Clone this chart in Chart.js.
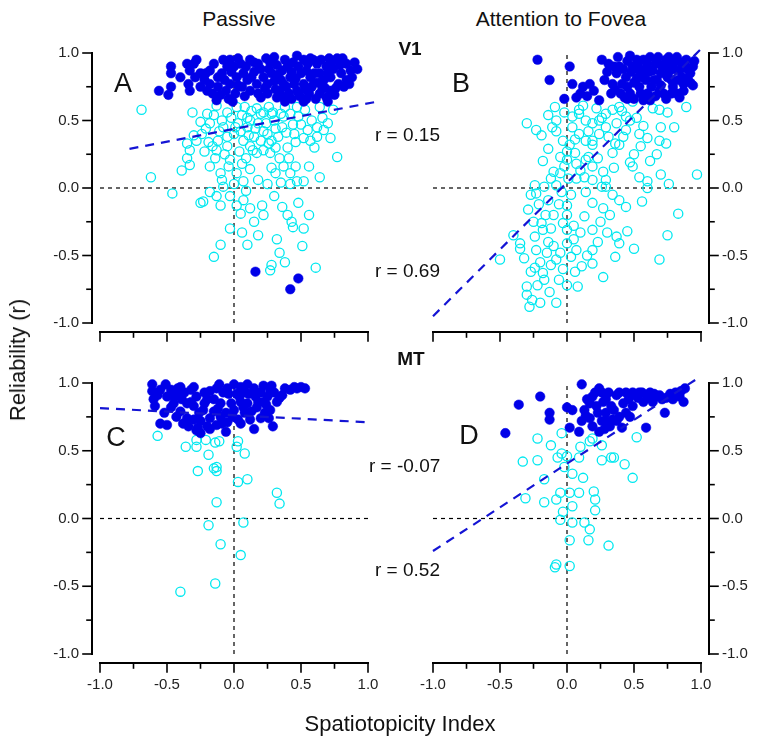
<!DOCTYPE html>
<html>
<head>
<meta charset="utf-8">
<script src="https://cdn.jsdelivr.net/npm/chart.js@4.4.1/dist/chart.umd.min.js"></script>
<style>
  body { margin:0; background:#fff; }
  #fig { position:relative; width:760px; height:745px; overflow:hidden; font-family:"Liberation Sans", Arial, sans-serif; color:#111; }
  #fig canvas { position:absolute; }
  .t { position:absolute; white-space:nowrap; line-height:1; transform:translate(-50%,-50%); }
  .r { position:absolute; white-space:nowrap; line-height:1; transform:translateY(-50%); font-size:19px; }
</style>
</head>
<body>
<div id="fig">
  <canvas id="cA" width="400" height="320" style="left:0;top:30px"></canvas>
  <canvas id="cB" width="360" height="320" style="left:400px;top:30px"></canvas>
  <canvas id="cC" width="400" height="395" style="left:0;top:350px"></canvas>
  <canvas id="cD" width="360" height="395" style="left:400px;top:350px"></canvas>

  <div class="t" style="left:239px;top:18px;font-size:21px">Passive</div>
  <div class="t" style="left:561px;top:18px;font-size:21px">Attention to Fovea</div>
  <div class="t" style="left:410px;top:48px;font-size:19px;font-weight:bold">V1</div>
  <div class="t" style="left:411px;top:358px;font-size:19px;font-weight:bold">MT</div>
  <div class="t" style="left:123px;top:83px;font-size:27px">A</div>
  <div class="t" style="left:461px;top:83px;font-size:27px">B</div>
  <div class="t" style="left:116px;top:437px;font-size:27px">C</div>
  <div class="t" style="left:469px;top:435px;font-size:27px">D</div>
  <div class="r" style="left:375px;top:134px">r = 0.15</div>
  <div class="r" style="left:375px;top:270px">r = 0.69</div>
  <div class="r" style="left:369px;top:465px">r = -0.07</div>
  <div class="r" style="left:375px;top:569px">r = 0.52</div>
  <div class="t" style="left:18px;top:360px;font-size:22px;transform:translate(-50%,-50%) rotate(-90deg)">Reliability (r)</div>
  <div class="t" style="left:400px;top:724px;font-size:22px">Spatiotopicity Index</div>
</div>
<script>
// axis ticks (every 0.25, labels on the half units)
const tickValues = [-1, -0.75, -0.5, -0.25, 0, 0.25, 0.5, 0.75, 1];
const tickLabels = ['-1.0', '-0.5', '0.0', '0.5', '1.0'];

// V1 passive
const aFilled = [[-0.47,0.90],[-0.47,0.85],[-0.56,0.72],[-0.49,0.69],[-0.47,0.75],[-0.35,0.92],[-0.33,0.87],[-0.30,0.92],[-0.34,0.77],[-0.33,0.72],[-0.29,0.82],[-0.25,0.75],[-0.20,0.72],[-0.18,0.77],[-0.21,0.85],[-0.18,0.87],[-0.25,0.85],[-0.08,0.95],[-0.05,0.90],[-0.09,0.85],[-0.03,0.95],[0.00,0.90],[0.02,0.82],[-0.03,0.77],[-0.06,0.72],[-0.10,0.69],[-0.13,0.65],[-0.04,0.66],[0.01,0.70],[0.06,0.75],[0.07,0.85],[0.05,0.92],[0.15,0.93],[0.15,0.86],[0.12,0.72],[0.17,0.77],[0.20,0.67],[0.22,0.82],[0.25,0.77],[0.28,0.85],[0.30,0.97],[0.32,0.91],[0.36,0.87],[0.38,0.95],[0.42,0.82],[0.39,0.75],[0.34,0.72],[0.32,0.67],[0.47,0.98],[0.48,0.90],[0.52,0.95],[0.54,0.87],[0.57,0.82],[0.52,0.77],[0.47,0.72],[0.43,0.66],[0.52,0.64],[0.59,0.95],[0.62,0.92],[0.64,0.85],[0.67,0.80],[0.69,0.90],[0.72,0.72],[0.77,0.96],[0.78,0.77],[0.84,0.92],[0.87,0.87],[0.92,0.88],[0.84,0.80],[0.75,0.69],[0.64,0.70],[0.58,0.75],[0.69,0.67],[0.40,0.90],[0.44,0.93],[0.55,0.92],[0.60,0.85],[0.70,0.85],[0.73,0.93],[0.80,0.85],[0.63,0.78],[0.35,0.80],[0.10,0.80],[0.27,0.93],[-0.12,0.82],[-0.40,0.82],[0.20,0.88],[0.45,0.77],[0.56,0.70],[0.68,0.74],[0.82,0.75],[0.88,0.82],[0.25,0.70],[-0.02,0.86],[0.08,0.68],[0.36,0.68],
  [-0.28,0.95],[-0.22,0.80],[-0.15,0.92],[-0.12,0.75],[-0.07,0.80],[0.03,0.96],[0.03,0.76],[0.09,0.90],[0.12,0.95],[0.13,0.82],[0.18,0.70],[0.18,0.92],[0.23,0.74],[0.24,0.96],[0.26,0.88],[0.30,0.79],[0.31,0.73],[0.33,0.84],[0.37,0.77],[0.41,0.70],[0.43,0.86],[0.46,0.81],[0.49,0.68],[0.50,0.85],[0.53,0.73],[0.57,0.96],[0.60,0.78],[0.61,0.66],[0.65,0.95],[0.66,0.74],[0.71,0.96],[0.72,0.82],[0.74,0.88],[0.76,0.74],[0.79,0.91],[0.81,0.96],[0.86,0.77],[0.90,0.93],[0.70,0.64],[0.54,0.66],[0.38,0.64],[-0.01,0.64],[-0.16,0.70],
  [0.16,-0.62],[0.48,-0.67],[0.42,-0.75]];
const aOpen = [[-0.69,0.58],[-0.62,0.08],[-0.46,-0.04],[-0.31,0.56],[-0.25,0.49],[-0.21,0.44],[-0.30,0.39],[-0.35,0.33],[-0.33,0.28],[-0.35,0.22],[-0.33,0.17],[-0.39,0.13],[-0.28,0.35],[-0.19,0.34],[-0.15,0.54],[-0.13,0.61],[-0.09,0.50],[-0.05,0.56],[-0.08,0.45],[-0.11,0.42],[-0.16,0.31],[-0.13,0.28],[-0.05,0.31],[-0.03,0.21],[-0.04,0.16],[-0.10,0.11],[-0.09,0.06],[-0.18,0.16],[0.02,0.60],[0.06,0.54],[0.03,0.48],[0.10,0.45],[0.12,0.50],[0.17,0.59],[0.22,0.56],[0.26,0.60],[0.29,0.56],[0.07,0.35],[0.12,0.31],[0.15,0.38],[0.20,0.35],[0.25,0.40],[0.28,0.35],[0.31,0.44],[0.36,0.45],[0.37,0.53],[0.42,0.55],[0.48,0.53],[0.52,0.37],[0.57,0.35],[0.62,0.45],[0.67,0.43],[0.72,0.37],[0.77,0.23],[0.64,0.60],[0.58,0.50],[0.64,0.08],[0.56,0.16],[0.42,0.03],[0.47,0.05],[0.42,0.11],[0.41,0.22],[0.34,0.22],[0.37,0.16],[0.31,0.11],[0.25,0.03],[0.07,0.05],[0.02,0.11],[0.06,0.18],[0.17,0.26],[0.22,0.28],[0.27,0.26],[-0.25,-0.11],[-0.23,-0.10],[-0.13,-0.06],[-0.10,-0.13],[-0.03,-0.06],[0.02,-0.13],[0.07,-0.09],[0.05,-0.19],[0.15,-0.25],[0.22,-0.20],[0.21,-0.13],[0.36,-0.14],[0.48,-0.11],[0.56,-0.20],[0.43,-0.25],[0.44,-0.29],[0.52,-0.30],[-0.03,-0.30],[0.06,-0.33],[-0.10,-0.42],[-0.15,-0.51],[0.10,-0.42],[0.32,-0.38],[0.34,-0.48],[0.51,-0.43],[0.28,-0.57],[0.27,-0.61],[0.61,-0.59],[-0.08,0.01],[0.00,0.03],[0.00,0.40],[0.05,0.42],[0.10,0.52],[0.18,0.48],[0.22,0.42],[0.30,0.50],[0.33,0.38],[0.45,0.40],[0.50,0.47],[-0.05,0.38],[-0.12,0.35],[0.14,0.28],[0.40,0.30],[0.62,0.38],[0.28,0.55],[0.38,0.60],[-0.20,0.55],[0.08,0.60],
  [-0.22,0.27],[-0.18,0.48],[-0.02,0.52],[0.04,0.27],[0.09,0.22],[0.11,0.39],[0.13,0.57],[0.16,0.44],[0.20,0.55],[0.24,0.48],[0.26,0.33],[0.31,0.30],[0.35,0.55],[0.39,0.41],[0.44,0.47],[0.46,0.34],[0.47,0.60],[0.53,0.58],[0.55,0.43],[0.60,0.30],[0.66,0.52],[0.70,0.48],[0.74,0.58],[0.12,0.14],[0.18,0.06],[0.28,0.15],[0.46,0.16],[0.52,0.05],[-0.14,0.22],[-0.24,0.40],[-0.07,0.25],[0.09,-0.02],[0.35,0.04],[0.30,-0.06],[0.12,-0.15],[-0.18,-0.03],[0.40,-0.20],[0.18,-0.35],[0.38,-0.55],[0.01,0.45]];
const aFit = [[-0.78,0.29],[1.07,0.64]];

// V1 attention to fovea
const bFilled = [[-0.22,0.95],[-0.13,0.80],[-0.02,0.66],[0.02,0.90],[0.26,0.95],[0.30,0.86],[0.04,0.77],[0.07,0.67],[0.12,0.75],[0.17,0.77],[0.20,0.72],[0.24,0.65],[0.33,0.70],[0.37,0.85],[0.41,0.77],[0.43,0.67],[0.47,0.98],[0.49,0.90],[0.52,0.81],[0.54,0.75],[0.57,0.65],[0.62,0.97],[0.64,0.87],[0.67,0.80],[0.69,0.72],[0.73,0.92],[0.75,0.82],[0.79,0.75],[0.82,0.97],[0.84,0.87],[0.89,0.95],[0.90,0.81],[0.94,0.90],[0.84,0.67],[0.74,0.66],[0.62,0.65],[0.39,0.90],[0.34,0.77],[0.44,0.82],[0.59,0.80],[0.52,0.95],[0.67,0.95],[0.77,0.90],[0.87,0.77],[0.94,0.76],[0.54,0.87],[0.45,0.75],[0.55,0.70],[0.60,0.92],[0.70,0.85],[0.78,0.80],[0.80,0.93],[0.86,0.82],[0.92,0.85],[0.63,0.75],[0.72,0.70],[0.48,0.86],[0.58,0.88],[0.66,0.92],[0.76,0.97],[0.88,0.90],[0.40,0.70],[0.50,0.66],[0.82,0.70],[0.35,0.90],[0.45,0.94],
  [0.28,0.80],[0.31,0.92],[0.36,0.73],[0.38,0.97],[0.42,0.88],[0.47,0.70],[0.50,0.78],[0.53,0.92],[0.56,0.82],[0.60,0.70],[0.61,0.86],[0.65,0.80],[0.68,0.97],[0.70,0.76],[0.71,0.90],[0.74,0.95],[0.76,0.86],[0.78,0.70],[0.80,0.88],[0.83,0.80],[0.85,0.93],[0.87,0.72],[0.90,0.88],[0.92,0.78],[0.95,0.94],[0.57,0.95],[0.45,0.66],[0.66,0.68],[0.15,0.68],[0.10,0.70]];
const bOpen = [[-0.30,0.48],[-0.23,0.43],[-0.19,0.39],[-0.14,0.29],[-0.08,0.50],[-0.14,0.54],[-0.09,0.60],[-0.08,0.42],[-0.05,0.23],[0.00,0.27],[-0.10,0.12],[-0.08,0.02],[-0.02,0.16],[-0.24,0.02],[-0.23,-0.04],[-0.17,0.01],[-0.14,-0.09],[-0.29,-0.16],[-0.25,-0.25],[-0.19,-0.26],[-0.18,-0.31],[-0.40,-0.35],[-0.35,-0.41],[-0.35,-0.45],[-0.50,-0.53],[-0.24,-0.36],[-0.23,-0.46],[-0.24,-0.59],[-0.18,-0.63],[-0.17,-0.68],[-0.30,-0.73],[-0.30,-0.79],[-0.26,-0.83],[-0.28,-0.88],[-0.20,-0.85],[-0.08,-0.85],[0.00,-0.72],[0.08,-0.73],[-0.15,-0.48],[-0.10,-0.43],[-0.05,-0.48],[-0.08,-0.53],[-0.12,-0.57],[0.00,-0.41],[0.07,-0.46],[0.11,-0.58],[0.03,-0.51],[0.19,-0.46],[0.19,-0.56],[0.27,-0.66],[0.36,-0.51],[0.39,-0.41],[0.30,-0.33],[0.19,-0.31],[0.37,-0.36],[0.69,-0.53],[0.75,-0.35],[0.83,-0.19],[0.97,0.10],[0.76,0.03],[0.60,0.05],[0.60,0.00],[0.54,0.08],[0.49,0.16],[0.47,0.19],[0.44,-0.14],[0.39,-0.09],[0.34,-0.05],[0.26,0.01],[0.19,0.06],[0.13,0.08],[0.07,0.07],[0.00,-0.13],[0.00,-0.20],[0.13,-0.21],[0.19,-0.11],[0.27,-0.15],[0.14,-0.03],[0.29,0.01],[0.07,0.18],[0.14,0.21],[0.16,0.23],[0.06,0.26],[0.19,0.16],[0.27,0.12],[0.29,0.06],[0.34,0.26],[0.39,0.32],[0.42,0.38],[0.54,0.40],[0.60,0.37],[0.69,0.35],[0.74,0.33],[0.55,0.31],[0.44,0.43],[0.37,0.48],[0.29,0.45],[0.24,0.40],[0.19,0.35],[0.14,0.35],[0.09,0.40],[0.04,0.45],[0.04,0.53],[0.09,0.55],[0.14,0.50],[0.19,0.48],[0.24,0.50],[0.12,0.61],[0.09,0.58],[0.22,0.59],[0.29,0.55],[0.34,0.58],[0.39,0.60],[0.44,0.53],[0.47,0.50],[0.64,0.59],[0.69,0.58],[0.75,0.56],[0.89,0.60],[0.49,0.64],[0.19,0.32],[0.02,0.32],[0.00,0.21],[-0.05,0.11],[0.00,-0.31],[-0.03,-0.26],
  [-0.27,-0.05],[-0.21,-0.12],[-0.16,-0.20],[-0.12,-0.30],[-0.10,-0.20],[-0.06,-0.12],[-0.04,-0.03],[-0.12,0.07],[-0.18,0.20],[-0.03,0.35],[-0.11,0.45],[-0.02,0.56],[0.01,0.07],[0.03,-0.05],[0.05,-0.28],[0.06,-0.62],[-0.03,-0.60],[-0.14,-0.40],[-0.20,-0.55],[-0.27,-0.62],[-0.32,-0.52],[-0.22,-0.72],[-0.13,-0.77],[-0.06,-0.68],[0.05,-0.38],[0.10,-0.33],[0.23,-0.40],[0.15,-0.50],[0.25,-0.25],[0.32,-0.20],[0.45,-0.32],[0.50,-0.45],[0.56,-0.10],[0.62,0.20],[0.70,0.10],[0.67,0.25],[0.50,0.25],[0.35,0.15],[0.23,0.22],[0.10,0.13],[0.06,0.36],[0.16,0.42],[0.26,0.52],[0.31,0.38],[0.36,0.33],[0.41,0.57],[0.52,0.52],[0.57,0.46],[0.80,0.45],[0.70,0.45]];
const bFit = [[-1.0,-0.95],[1.0,1.03]];

// MT passive
const cFilled = [[-0.61,0.99],[-0.61,0.94],[-0.60,0.88],[-0.59,0.83],[-0.55,0.70],[-0.50,0.69],[-0.51,0.99],[-0.47,0.95],[-0.42,0.96],[-0.37,0.93],[-0.45,0.90],[-0.39,0.88],[-0.47,0.82],[-0.40,0.79],[-0.35,0.74],[-0.34,0.68],[-0.30,0.83],[-0.32,0.95],[-0.28,0.90],[-0.26,0.78],[-0.27,0.67],[-0.25,0.63],[-0.20,0.68],[-0.20,0.88],[-0.18,0.94],[-0.15,0.79],[-0.13,0.96],[-0.11,0.99],[-0.08,0.93],[-0.10,0.85],[-0.06,0.78],[-0.09,0.70],[-0.04,0.92],[0.00,0.99],[0.02,0.92],[0.05,0.86],[0.10,0.99],[0.08,0.93],[0.08,0.78],[0.12,0.73],[0.03,0.73],[0.16,0.90],[0.17,0.82],[0.22,0.86],[0.27,0.80],[0.22,0.98],[0.28,0.98],[0.27,0.95],[0.36,0.91],[0.34,0.89],[0.15,0.66],[0.29,0.68],[0.42,0.95],[0.47,0.96],[0.53,0.96],[0.23,0.78],[0.20,0.74],[-0.18,0.74],[-0.05,0.71],[-0.23,0.80],[-0.50,0.90],[-0.32,0.86],[-0.55,0.95],[-0.40,0.97],[-0.30,0.97],[-0.22,0.93],[-0.05,0.96],[0.05,0.97],[0.15,0.96],[-0.35,0.85],[-0.15,0.88],[0.10,0.85],[0.00,0.80],[-0.25,0.72],[0.20,0.93],[-0.45,0.85],[0.25,0.90],[0.05,0.70],[-0.10,0.75],
  [-0.57,0.91],[-0.52,0.78],[-0.43,0.75],[-0.38,0.70],[-0.30,0.73],[-0.28,0.65],[-0.22,0.85],[-0.18,0.66],[-0.12,0.81],[-0.13,0.69],[-0.02,0.85],[-0.01,0.75],[0.04,0.90],[0.07,0.82],[0.11,0.92],[0.13,0.79],[0.18,0.86],[0.24,0.84],[0.30,0.93],[0.32,0.86],[0.38,0.96],[0.45,0.97],[0.50,0.97],[0.26,0.74],[-0.06,0.64],[-0.41,0.91]];
const cOpen = [[-0.57,0.61],[-0.36,0.53],[-0.28,0.58],[-0.28,0.53],[-0.21,0.58],[-0.19,0.47],[-0.14,0.56],[-0.11,0.57],[0.03,0.57],[0.02,0.53],[0.08,0.48],[-0.27,0.35],[-0.15,0.37],[-0.13,0.38],[-0.13,0.35],[0.03,0.27],[0.10,0.29],[0.32,0.19],[0.34,0.11],[-0.13,0.12],[-0.19,-0.05],[0.07,-0.03],[-0.10,-0.19],[0.05,-0.27],[-0.14,-0.48],[-0.40,-0.54]];
const cFit = [[-1.0,0.815],[1.0,0.71]];

// MT attention to fovea
const dFilled = [[-0.46,0.63],[-0.36,0.84],[-0.20,0.90],[-0.13,0.78],[-0.13,0.73],[0.00,0.82],[0.04,0.80],[0.02,0.67],[0.09,0.64],[0.11,0.99],[0.13,0.80],[0.17,0.85],[0.19,0.90],[0.24,0.96],[0.26,0.93],[0.11,0.72],[0.17,0.74],[0.19,0.68],[0.24,0.64],[0.26,0.72],[0.29,0.78],[0.32,0.68],[0.33,0.83],[0.37,0.91],[0.39,0.75],[0.41,0.67],[0.44,0.78],[0.46,0.88],[0.49,0.93],[0.53,0.89],[0.57,0.86],[0.59,0.67],[0.62,0.93],[0.67,0.90],[0.69,0.91],[0.73,0.78],[0.74,0.89],[0.79,0.91],[0.84,0.90],[0.87,0.86],[0.88,0.96],[0.39,0.93],[0.29,0.88],[0.22,0.83],[0.34,0.73],[0.49,0.83],[0.64,0.86],[0.44,0.93],[0.54,0.93],[0.77,0.92],[0.23,0.78],[0.29,0.72],[0.37,0.72],[0.79,0.88],
  [0.15,0.88],[0.21,0.93],[0.27,0.86],[0.31,0.93],[0.35,0.80],[0.42,0.85],[0.47,0.75],[0.51,0.91],[0.56,0.93],[0.60,0.89],[0.65,0.92],[0.71,0.88],[0.81,0.93],[0.85,0.94],[0.28,0.66],[0.14,0.76]];
const dOpen = [[-0.22,0.59],[-0.04,0.63],[0.19,0.59],[0.17,0.57],[0.26,0.54],[0.52,0.60],[-0.12,0.54],[0.10,0.53],[-0.33,0.42],[-0.22,0.43],[-0.07,0.45],[-0.04,0.48],[0.00,0.46],[0.09,0.45],[0.26,0.43],[0.33,0.45],[0.35,0.45],[0.43,0.40],[0.49,0.30],[-0.02,0.38],[0.04,0.33],[0.12,0.30],[-0.17,0.29],[-0.31,0.15],[-0.17,0.12],[-0.08,0.14],[-0.05,0.19],[0.02,0.19],[0.09,0.19],[0.20,0.20],[0.21,0.14],[0.21,0.06],[0.04,0.09],[-0.03,0.05],[-0.05,-0.01],[0.04,-0.03],[0.13,-0.03],[0.17,-0.08],[0.02,-0.16],[0.16,-0.16],[0.31,-0.20],[-0.09,-0.36],[-0.08,-0.34],[0.02,-0.35]];
const dFit = [[-1.0,-0.24],[1.0,1.05]];

const zeroH = [[-1, 0], [1, 0]];
const zeroV = [[0, -1], [0, 1]];

const pts = arr => arr.map(p => ({x: p[0], y: p[1]}));

// Origin style axes, offset a little from the plot area
function axesPlugin(side, xLabels) {
  return {
    id: 'panelAxes',
    afterDraw(chart) {
      const {ctx, chartArea, scales} = chart;
      const xs = scales.x, ys = scales.y;
      ctx.save();
      ctx.strokeStyle = '#000';
      ctx.fillStyle = '#222';
      ctx.font = '15px "Liberation Sans", Arial, sans-serif';
      ctx.lineCap = 'square';

      // y axis
      const dir = side === 'left' ? -1 : 1;
      const ax = side === 'left' ? chartArea.left - 8 : chartArea.right + 8;
      ctx.lineWidth = 2;
      ctx.beginPath();
      ctx.moveTo(ax, ys.getPixelForValue(1));
      ctx.lineTo(ax, ys.getPixelForValue(-1));
      ctx.stroke();
      ctx.lineWidth = 1.6;
      ctx.textBaseline = 'middle';
      ctx.textAlign = side === 'left' ? 'right' : 'left';
      tickValues.forEach((v, i) => {
        const py = ys.getPixelForValue(v);
        const major = i % 2 === 0;
        const len = major ? 9 : 5;
        ctx.beginPath();
        ctx.moveTo(ax, py);
        ctx.lineTo(ax + dir * len, py);
        ctx.stroke();
        if (major) ctx.fillText(tickLabels[i / 2], ax + dir * (len + 4), py);
      });

      // x axis
      const ay = chartArea.bottom + 9;
      ctx.lineWidth = 2;
      ctx.beginPath();
      ctx.moveTo(xs.getPixelForValue(-1), ay);
      ctx.lineTo(xs.getPixelForValue(1), ay);
      ctx.stroke();
      ctx.lineWidth = 1.6;
      ctx.textAlign = 'center';
      ctx.textBaseline = 'top';
      tickValues.forEach((v, i) => {
        const px = xs.getPixelForValue(v);
        const major = i % 2 === 0;
        const len = major ? 9 : 5;
        ctx.beginPath();
        ctx.moveTo(px, ay);
        ctx.lineTo(px, ay + len);
        ctx.stroke();
        if (major && xLabels) ctx.fillText(tickLabels[i / 2], px, ay + 14);
      });
      ctx.restore();
    }
  };
}

function makePanel(id, filled, open, fit, pad, side, xLabels) {
  return new Chart(document.getElementById(id), {
    type: 'scatter',
    data: {
      datasets: [
        { type: 'line', data: pts(fit), borderColor: '#1414d4', borderWidth: 2.2, borderDash: [9, 7], pointRadius: 0, clip: false },
        { data: pts(filled), pointRadius: 4.8, backgroundColor: '#0000e8', borderColor: '#0000e8', borderWidth: 0.5, clip: false },
        { data: pts(open), pointRadius: 4.6, backgroundColor: 'rgba(255,255,255,0)', borderColor: '#00e8f0', borderWidth: 1.3, clip: false },
        { type: 'line', data: pts(zeroH), borderColor: '#000', borderWidth: 1.2, borderDash: [4, 4], pointRadius: 0, clip: false },
        { type: 'line', data: pts(zeroV), borderColor: '#000', borderWidth: 1.2, borderDash: [4, 4], pointRadius: 0, clip: false }
      ]
    },
    options: {
      responsive: false,
      animation: false,
      events: [],
      layout: { padding: pad },
      plugins: { legend: { display: false }, tooltip: { enabled: false } },
      scales: {
        x: { type: 'linear', min: -1, max: 1, display: false },
        y: { type: 'linear', min: -1, max: 1, display: false }
      }
    },
    plugins: [axesPlugin(side, xLabels)]
  });
}

makePanel('cA', aFilled, aOpen, aFit, {left: 100, right: 32, top: 23, bottom: 27}, 'left', false);
makePanel('cB', bFilled, bOpen, bFit, {left: 33, right: 59, top: 23, bottom: 27}, 'right', false);
makePanel('cC', cFilled, cOpen, cFit, {left: 100, right: 32, top: 33, bottom: 91}, 'left', true);
makePanel('cD', dFilled, dOpen, dFit, {left: 33, right: 59, top: 33, bottom: 91}, 'right', true);
</script>
</body>
</html>
